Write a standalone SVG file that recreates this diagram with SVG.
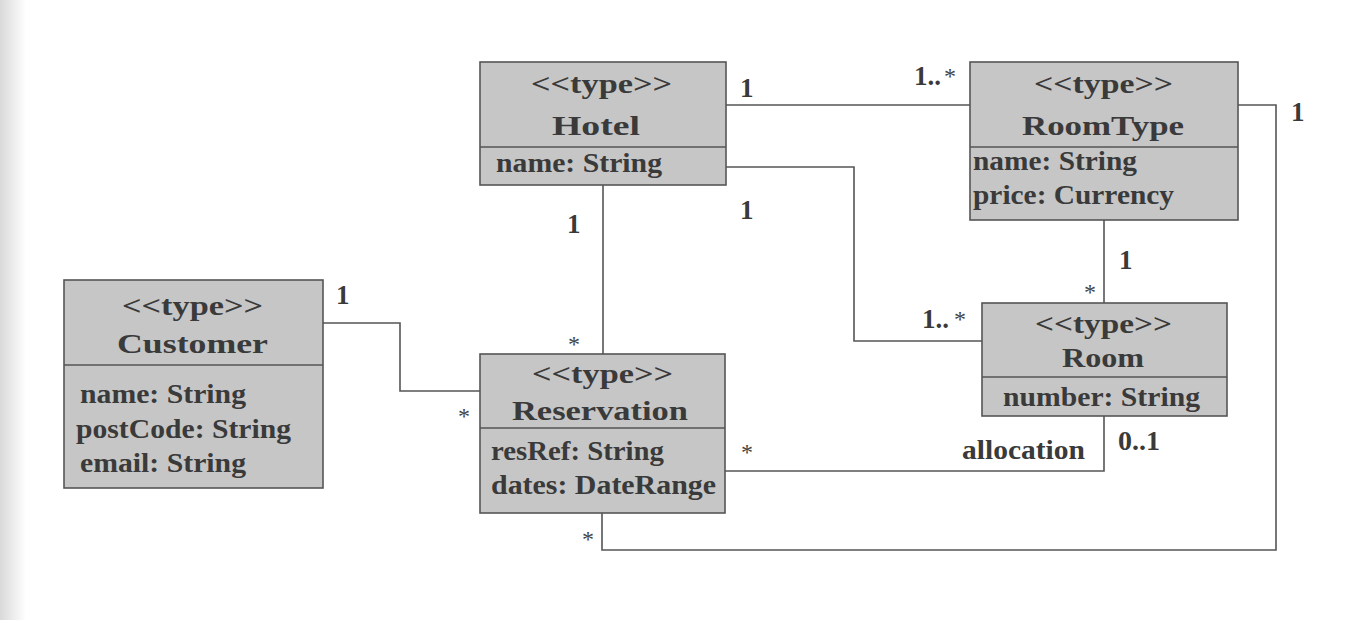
<svg xmlns="http://www.w3.org/2000/svg" width="1356" height="620" viewBox="0 0 1356 620">
<defs>
<linearGradient id="edge" x1="0" y1="0" x2="1" y2="0">
<stop offset="0" stop-color="#d9d9d9"/>
<stop offset="1" stop-color="#ffffff"/>
</linearGradient>
<style>
.box{fill:#c6c6c6;stroke:#555;stroke-width:1.6}
.div{stroke:#555;stroke-width:1.6}
.t{font-family:"Liberation Serif",serif;font-weight:bold;font-size:28px;fill:#3a3a3a}
.lbl{font-family:"Liberation Serif",serif;font-weight:bold;font-size:27px;fill:#3a3a3a}
.star{font-family:"Liberation Serif",serif;font-size:24px;fill:#444444}
.conn{fill:none;stroke:#555;stroke-width:1.6}
</style>
</defs>
<rect x="0" y="0" width="1356" height="620" fill="#ffffff"/>
<rect x="0" y="0" width="26" height="620" fill="url(#edge)"/>

<g id="connectors">
<polyline class="conn" points="726,105 970,105"/>
<polyline class="conn" points="726,167 854,167 854,341 982,341"/>
<polyline class="conn" points="603,185 603,354"/>
<polyline class="conn" points="1104,220 1104,303"/>
<polyline class="conn" points="1238,105 1276,105 1276,550 602,550 602,513"/>
<polyline class="conn" points="323,323 400,323 400,391 480,391"/>
<polyline class="conn" points="725,471 1104,471 1104,416"/>
</g>

<g id="labels">
<text class="lbl" x="740" y="97">1</text>
<text class="lbl" x="914" y="85">1..</text><text class="star" x="944" y="84">*</text>
<text class="lbl" x="740" y="219">1</text>
<text class="lbl" x="567" y="233">1</text>
<text class="star" x="568" y="352">*</text>
<text class="lbl" x="922" y="328">1..</text><text class="star" x="954" y="327">*</text>
<text class="star" x="1084" y="300">*</text>
<text class="lbl" x="1119" y="269">1</text>
<text class="lbl" x="1291" y="121">1</text>
<text class="lbl" x="336" y="304">1</text>
<text class="star" x="458" y="424">*</text>
<text class="star" x="741" y="460">*</text>
<text class="star" x="582" y="547">*</text>
<text class="lbl" x="962" y="459" textLength="123" lengthAdjust="spacingAndGlyphs">allocation</text>
<text class="lbl" x="1118" y="450" textLength="42" lengthAdjust="spacingAndGlyphs">0..1</text>
</g>

<g id="hotel">
<rect class="box" x="480" y="62" width="246" height="123"/>
<line class="div" x1="480" y1="147" x2="726" y2="147"/>
<text class="t" x="531" y="93" textLength="141" lengthAdjust="spacingAndGlyphs">&lt;&lt;type&gt;&gt;</text>
<text class="t" x="552" y="135" textLength="88" lengthAdjust="spacingAndGlyphs">Hotel</text>
<text class="t" x="496" y="172" textLength="166" lengthAdjust="spacingAndGlyphs">name: String</text>
</g>

<g id="roomtype">
<rect class="box" x="970" y="62" width="268" height="158"/>
<line class="div" x1="970" y1="147" x2="1238" y2="147"/>
<text class="t" x="1034" y="93" textLength="139" lengthAdjust="spacingAndGlyphs">&lt;&lt;type&gt;&gt;</text>
<text class="t" x="1022" y="135" textLength="162" lengthAdjust="spacingAndGlyphs">RoomType</text>
<text class="t" x="973" y="170" textLength="164" lengthAdjust="spacingAndGlyphs">name: String</text>
<text class="t" x="973" y="204" textLength="201" lengthAdjust="spacingAndGlyphs">price: Currency</text>
</g>

<g id="customer">
<rect class="box" x="64" y="280" width="259" height="208"/>
<line class="div" x1="64" y1="365" x2="323" y2="365"/>
<text class="t" x="122" y="315" textLength="141" lengthAdjust="spacingAndGlyphs">&lt;&lt;type&gt;&gt;</text>
<text class="t" x="117" y="353" textLength="151" lengthAdjust="spacingAndGlyphs">Customer</text>
<text class="t" x="80" y="403" textLength="166" lengthAdjust="spacingAndGlyphs">name: String</text>
<text class="t" x="76" y="438" textLength="215" lengthAdjust="spacingAndGlyphs">postCode: String</text>
<text class="t" x="80" y="472" textLength="166" lengthAdjust="spacingAndGlyphs">email: String</text>
</g>

<g id="reservation">
<rect class="box" x="480" y="354" width="245" height="159"/>
<line class="div" x1="480" y1="428" x2="725" y2="428"/>
<text class="t" x="532" y="383" textLength="141" lengthAdjust="spacingAndGlyphs">&lt;&lt;type&gt;&gt;</text>
<text class="t" x="512" y="420" textLength="176" lengthAdjust="spacingAndGlyphs">Reservation</text>
<text class="t" x="491" y="460" textLength="173" lengthAdjust="spacingAndGlyphs">resRef: String</text>
<text class="t" x="491" y="494" textLength="225" lengthAdjust="spacingAndGlyphs">dates: DateRange</text>
</g>

<g id="room">
<rect class="box" x="982" y="303" width="245" height="113"/>
<line class="div" x1="982" y1="377" x2="1227" y2="377"/>
<text class="t" x="1035" y="333" textLength="137" lengthAdjust="spacingAndGlyphs">&lt;&lt;type&gt;&gt;</text>
<text class="t" x="1062" y="367" textLength="82" lengthAdjust="spacingAndGlyphs">Room</text>
<text class="t" x="1003" y="406" textLength="197" lengthAdjust="spacingAndGlyphs">number: String</text>
</g>
</svg>
